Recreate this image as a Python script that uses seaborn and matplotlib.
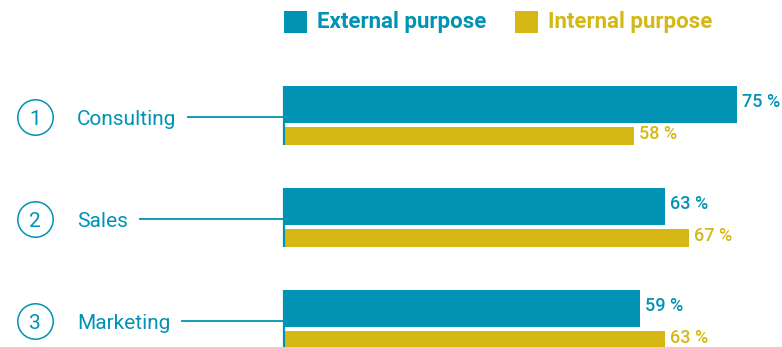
import numpy as np
import pandas as pd
import matplotlib
matplotlib.use("Agg")
import matplotlib.pyplot as plt
from matplotlib.patches import Rectangle
import seaborn as sns

# Share of respondents per field, by purpose
categories = ["Consulting", "Sales", "Marketing"]
numbers = ["1", "2", "3"]
external = [75, 63, 59]
internal = [58, 67, 63]
series_names = ["External purpose", "Internal purpose"]

TEAL = "#0093B4"
GOLD = "#D5B813"

sns.set_theme(style="white")
plt.rcParams["font.family"] = ["Roboto", "DejaVu Sans"]

W, H = 782, 347
fig = plt.figure(figsize=(W / 100, H / 100), dpi=100)

x0_px = 284          # left edge of the bars
px_per_pct = 6.04
group_px = 102.0
first_center_px = 120.25

ax = fig.add_axes([x0_px / W, 0, (W - x0_px) / W, 1])

pos = np.arange(len(categories), dtype=float)
ext_h, int_h = 0.363, 0.176
ext_off, int_off = -0.154, 0.154

df_ext = pd.DataFrame({"pos": pos + ext_off, "val": external})
df_int = pd.DataFrame({"pos": pos + int_off, "val": internal})

sns.barplot(data=df_ext, x="val", y="pos", orient="h", native_scale=True,
            width=ext_h, color=TEAL, saturation=1, errorbar=None,
            linewidth=0, ax=ax)
sns.barplot(data=df_int, x="val", y="pos", orient="h", native_scale=True,
            width=int_h, color=GOLD, saturation=1, errorbar=None,
            linewidth=0, ax=ax)

xmax = (W - x0_px) / px_per_pct
ax.set_xlim(0, xmax)
top = (0 - first_center_px) / group_px
bottom = (H - first_center_px) / group_px
ax.set_ylim(bottom, top)
ax.set_axis_off()

def px_to_x(px):
    return (px - x0_px) / px_per_pct

# value labels, slightly above the bar centre
pad = px_to_x(x0_px + 5)
lift = 0.022
for i, (e, n) in enumerate(zip(external, internal)):
    ax.text(e + pad, pos[i] + ext_off - lift, f"{e} %", color=TEAL,
            fontsize=13, fontweight="medium", va="center", ha="left",
            clip_on=False)
    ax.text(n + pad, pos[i] + int_off - lift, f"{n} %", color=GOLD,
            fontsize=13, fontweight="medium", va="center", ha="left",
            clip_on=False)

# left-hand markers, names and connectors
label_y = -0.03
text_drop = 0.02
name_objs = []
for i, (num, cat) in enumerate(zip(numbers, categories)):
    yc = pos[i] + label_y
    ax.plot([px_to_x(35)], [yc], marker="o", markersize=25.5,
            markerfacecolor="none", markeredgecolor=TEAL, markeredgewidth=1.1,
            clip_on=False)
    ax.text(px_to_x(35), yc + text_drop, num, color=TEAL, fontsize=15,
            ha="center", va="center", clip_on=False)
    t = ax.text(px_to_x(77), yc + text_drop, cat, color=TEAL, fontsize=15,
                ha="left", va="center", clip_on=False)
    name_objs.append(t)
    y_top = pos[i] + ext_off - ext_h / 2
    y_bot = pos[i] + int_off + int_h / 2
    ax.plot([0, 0], [y_top, y_bot], color=TEAL, lw=1.6, clip_on=False,
            solid_capstyle="butt")

fig.canvas.draw()
renderer = fig.canvas.get_renderer()
for i, t in enumerate(name_objs):
    bb = t.get_window_extent(renderer)
    ax.plot([px_to_x(bb.x1 + 11), 0], [pos[i] + label_y] * 2, color=TEAL,
            lw=1.3, clip_on=False, solid_capstyle="butt")

# legend
def fig_rect(x, y, w, h, c):
    fig.add_artist(Rectangle((x / W, 1 - (y + h) / H), w / W, h / H,
                             facecolor=c, edgecolor="none",
                             transform=fig.transFigure))

fig_rect(284, 11, 23, 22, TEAL)
fig.text(317 / W, 1 - 22 / H, series_names[0], color=TEAL, fontsize=16,
         fontweight="bold", va="center", ha="left")
fig_rect(515, 11, 23, 22, GOLD)
fig.text(548 / W, 1 - 22 / H, series_names[1], color=GOLD, fontsize=16,
         fontweight="bold", va="center", ha="left")

fig.savefig("out.png", dpi=100)
